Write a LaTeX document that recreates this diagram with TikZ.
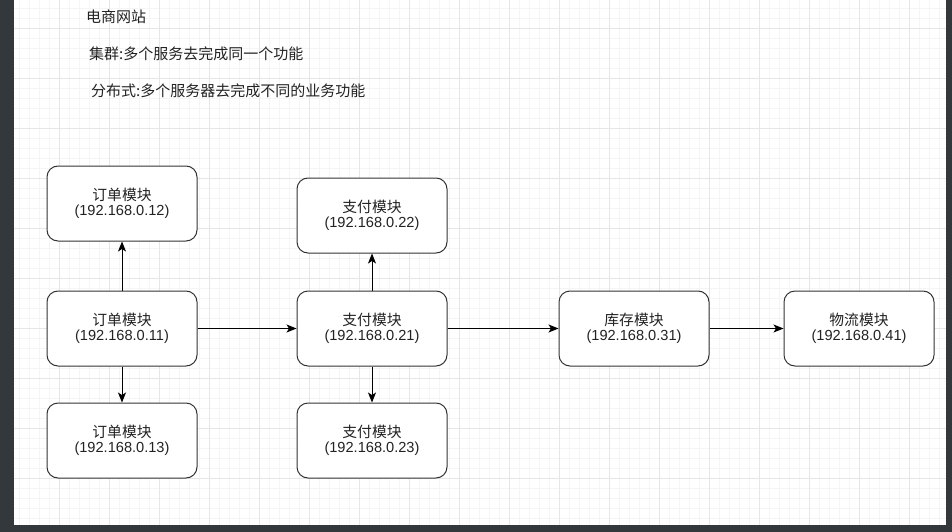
\documentclass[tikz,border=0pt]{standalone}
\usepackage{fontspec}
\setmainfont{Liberation Sans}
\newfontfamily\cjk{Noto Sans CJK SC}
\usetikzlibrary{arrows.meta}
\definecolor{darkbg}{HTML}{33383C}
\definecolor{gminc}{HTML}{F5F5F5}
\definecolor{gmajc}{HTML}{E6E6E6}
\definecolor{boxc}{HTML}{333333}
\definecolor{txtc}{HTML}{222222}
\tikzset{
  gmin/.style={draw=gminc, line width=0.8pt},
  gmaj/.style={draw=gmajc, line width=0.9pt},
  modbox/.style={draw=boxc, line width=1pt, rounded corners=11pt, fill=white,
    minimum width=150pt, minimum height=75pt, inner sep=0pt, align=center,
    text=txtc, font=\fontsize{14.6}{15.5}\selectfont},
  conn/.style={draw=black, line width=1pt, -{Stealth[length=10pt,width=8pt,inset=2.5pt]}},
  toplabel/.style={anchor=west, inner sep=0pt, text=txtc, font=\cjk\fontsize{15}{16}\selectfont}
}
\newcommand{\modtext}[2]{{\cjk\fontsize{14.8}{15.5}\selectfont #1}\\#2}
\begin{document}
\begin{tikzpicture}[x=1pt,y=-1pt]
\useasboundingbox (0,0) rectangle (952,532);
\fill[white] (0,0) rectangle (952,532);
% grid
\foreach \x in {19.5,29.5,...,939.5} \draw[gmin] (\x,0) -- (\x,525);
\foreach \y in {8,18,...,518} \draw[gmin] (14,\y) -- (946,\y);
\foreach \x in {59.5,109.5,...,909.5} \draw[gmaj] (\x,0) -- (\x,525);
\foreach \y in {28,78,...,478} \draw[gmaj] (14,\y) -- (946,\y);
% dark borders
\fill[darkbg] (0,0) rectangle (14,532);
\fill[darkbg] (0,525) rectangle (952,532);
\fill[darkbg] (946,0) rectangle (952,532);
% top labels
\node[toplabel] (t1) at (86,17) {电商网站};
\node[toplabel] (t2) at (89,54) {集群:多个服务去完成同一个功能};
\node[toplabel] (t3) at (91,91) {分布式:多个服务器去完成不同的业务功能};
% boxes
\node[modbox] (o12) at (122,203.5) {\modtext{订单模块}{(192.168.0.12)}};
\node[modbox] (o11) at (122,328.5) {\modtext{订单模块}{(192.168.0.11)}};
\node[modbox] (o13) at (122,440.5) {\modtext{订单模块}{(192.168.0.13)}};
\node[modbox] (p22) at (372,215.5) {\modtext{支付模块}{(192.168.0.22)}};
\node[modbox] (p21) at (372,328.5) {\modtext{支付模块}{(192.168.0.21)}};
\node[modbox] (p23) at (372,440.5) {\modtext{支付模块}{(192.168.0.23)}};
\node[modbox] (kc) at (634,328.5) {\modtext{库存模块}{(192.168.0.31)}};
\node[modbox] (wl) at (859,328.5) {\modtext{物流模块}{(192.168.0.41)}};
% connectors
\draw[conn] (o11) -- (o12);
\draw[conn] (o11) -- (o13);
\draw[conn] (o11) -- (p21);
\draw[conn] (p21) -- (p22);
\draw[conn] (p21) -- (p23);
\draw[conn] (p21) -- (kc);
\draw[conn] (kc) -- (wl);
\end{tikzpicture}
\end{document}
